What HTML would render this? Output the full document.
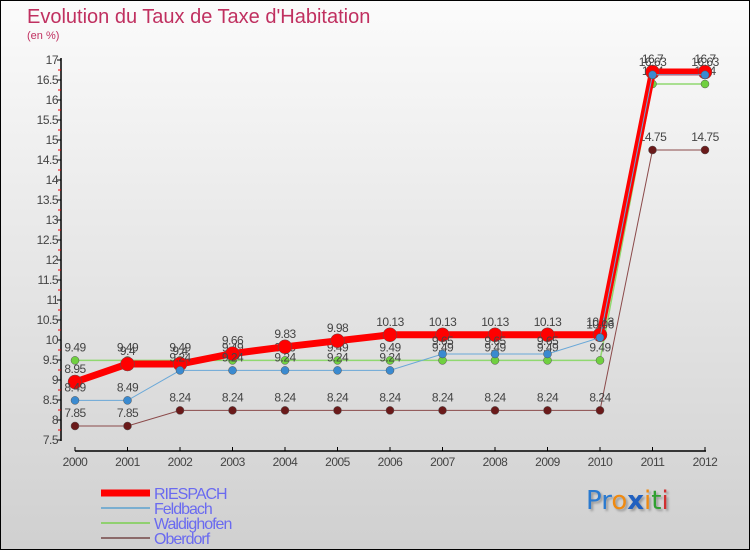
<!DOCTYPE html>
<html><head><meta charset="utf-8"><style>
html,body{margin:0;padding:0}
body{width:750px;height:550px;overflow:hidden;font-family:"Liberation Sans",sans-serif}
#wrap{position:relative;width:748px;height:548px;border:1px solid #000;background:linear-gradient(#fbfbfb,#d0d0d0)}
.t{position:absolute;color:#c03060;}
</style></head><body>
<div id="wrap">
<div class="t" style="left:26px;top:5px;font-size:20px">Evolution du Taux de Taxe d'Habitation</div>
<div class="t" style="left:26px;top:29px;font-size:11px">(en %)</div>
<svg id="chart" width="750" height="550" style="position:absolute;left:-1px;top:-1px"></svg>
<div style="position:absolute;left:585px;top:485px;font-size:26px;font-family:'DejaVu Sans',sans-serif;text-shadow:2px 2px 2px #999"><span style="color:#2a7ad0">Pr</span><span style="color:#f08a10">o</span><span style="color:#2060c0;font-weight:bold">x</span><span style="color:#f08a10">i</span><span style="color:#30a030">t</span><span style="color:#d03030">i</span></div>
</div>
<script>
const years=[2000,2001,2002,2003,2004,2005,2006,2007,2008,2009,2010,2011,2012];
const riespach=[8.95,9.4,9.4,9.66,9.83,9.98,10.13,10.13,10.13,10.13,10.13,16.7,16.7];
const feldbach=[8.49,8.49,9.24,9.24,9.24,9.24,9.24,9.65,9.65,9.65,10.06,16.63,16.63];
const waldighofen=[9.49,9.49,9.49,9.49,9.49,9.49,9.49,9.49,9.49,9.49,9.49,16.4,16.4];
const oberdorf=[7.85,7.85,8.24,8.24,8.24,8.24,8.24,8.24,8.24,8.24,8.24,14.75,14.75];
const yTicks=[7.5,8,8.5,9,9.5,10,10.5,11,11.5,12,12.5,13,13.5,14,14.5,15,15.5,16,16.5,17];
const NS='http://www.w3.org/2000/svg';
const svg=document.getElementById('chart');
const x=i=>75+i*52.5;
const y=v=>440-(v-7.5)*40;
function el(tag,attrs,parent){const e=document.createElementNS(NS,tag);for(const k in attrs)e.setAttribute(k,attrs[k]);(parent||svg).appendChild(e);return e;}
let a=el('line',{x1:61,y1:58,x2:61,y2:441,stroke:'#000','stroke-width':1.5});


a=el('line',{x1:75,y1:451,x2:706,y2:451,stroke:'#000','stroke-width':1.5});


yTicks.forEach(v=>{
 el('line',{x1:57,y1:y(v),x2:61,y2:y(v),stroke:'#000'});
 if(v<17){el('line',{x1:58,y1:y(v+0.25),x2:61,y2:y(v+0.25),stroke:'#e00'});}
 const t=el('text',{x:58,y:y(v)+4,'text-anchor':'end','font-size':12,fill:'#444','letter-spacing':'-0.5'});
 t.textContent=String(v);
 
 
});
years.forEach((yr,i)=>{
 el('line',{x1:x(i),y1:447,x2:x(i),y2:451,stroke:'#000'});
 const t=el('text',{x:x(i),y:466,'text-anchor':'middle','font-size':12,fill:'#444','letter-spacing':'-0.5'});
 t.textContent=yr;
 
 
});
function series(name,data,color,w,r,dotColor){
 const g=el('g',{});
 
 
 el('polyline',{points:data.map((v,i)=>x(i)+','+y(v)).join(' '),fill:'none',stroke:color,'stroke-width':w},g);
 data.forEach((v,i)=>{
  const c=el('circle',{cx:x(i),cy:y(v),r:r,fill:dotColor,stroke:'#555','stroke-width':0.5},g);
  
  
  const t=el('text',{x:x(i),y:y(v)-9,'text-anchor':'middle','font-size':12,fill:'#444','letter-spacing':'-0.5'},g);
  t.textContent=String(v);
  
  
 });
}
series('oberdorf',oberdorf,'#8b4a4a',1,4,'#6a1a1a');
series('waldighofen',waldighofen,'#90d870',1.5,4,'#70d040');
series('riespach',riespach,'#f00',7,7,'#f00');
series('feldbach',feldbach,'#6aa8d8',1,4,'#3a8ad0');
const leg=[['RIESPACH','#f00',7],['Feldbach','#7aaed0',2],['Waldighofen','#90d070',2],['Oberdorf','#8b6a6a',2]];
leg.forEach((l,i)=>{
 const g=el('g',{});
 
 
 const yy=493+i*15;
 el('line',{x1:101,y1:yy,x2:150,y2:yy,stroke:l[1],'stroke-width':l[2]},g);
 const t=el('text',{x:154,y:yy+6,'font-size':16,fill:'#6a6af0','letter-spacing':'-1'},g);
 t.textContent=l[0];
});
</script>
</body></html>
